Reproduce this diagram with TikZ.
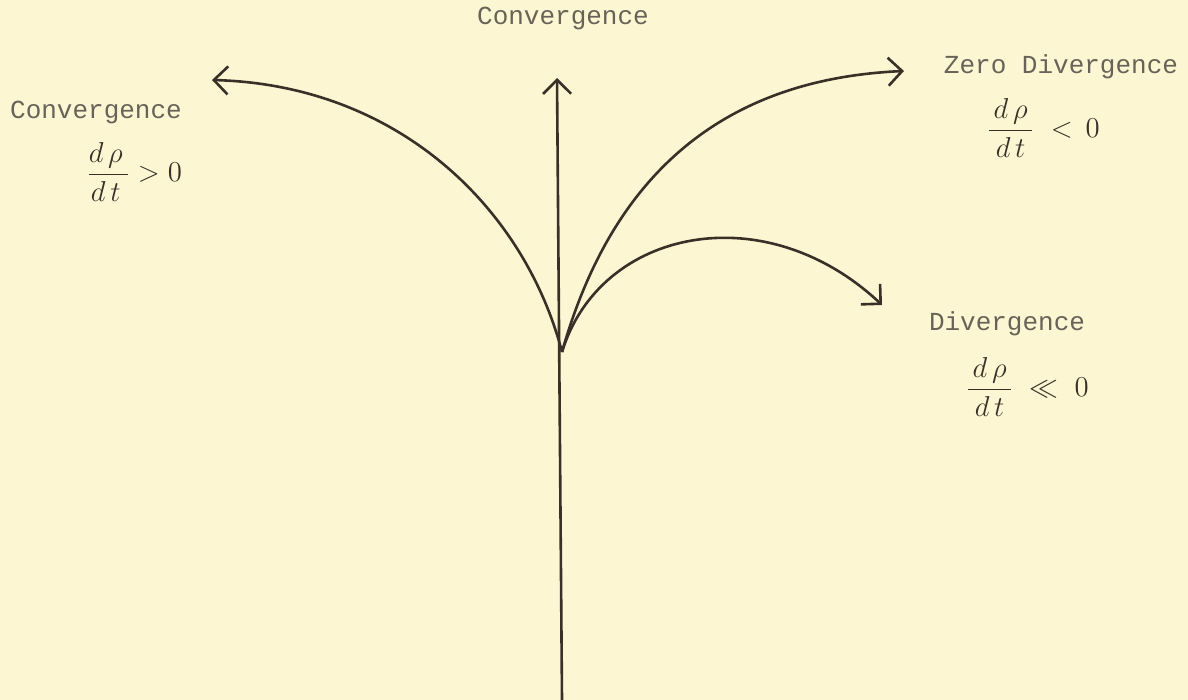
\documentclass[tikz,border=0pt]{standalone}
\usepackage{fontspec}
\setmonofont{Liberation Mono}
\usetikzlibrary{arrows.meta}
\definecolor{paper}{RGB}{253,246,211}
\definecolor{ink}{RGB}{58,48,40}
\definecolor{typed}{RGB}{105,98,88}
\begin{document}
\begin{tikzpicture}[
    x=0.5pt, y=-0.5pt,
    curve/.style={draw=ink, line width=1.3pt, -{Straight Barb[length=7pt,width=14pt,line width=1.3pt]}},
    typed/.style={text=typed, font=\ttfamily\fontsize{13}{15}\selectfont, inner sep=0pt},
    rate/.style={text=ink, font=\fontsize{15}{17}\selectfont, inner sep=0pt, anchor=west}
]
\fill[paper] (0,0) rectangle (1188,700);
\useasboundingbox (0,0) rectangle (1188,700);
% stem and branch points
\coordinate (bottom) at (562,700);
\coordinate (origin) at (562,352);
\coordinate (topTip) at (557,78);
\coordinate (leftTip) at (212,80);
\coordinate (zeroTip) at (904,71);
\coordinate (divTip) at (882,305);
\draw[curve] (bottom) -- (topTip);
\draw[curve] (origin) .. controls (525,210) and (400,85) .. (leftTip);
\draw[curve] (origin) .. controls (605,200) and (700,80) .. (zeroTip);
\draw[curve] (origin) .. controls (600,228) and (765,195) .. (divTip);
% labels
\node[typed] (topLabel) at (563,18) {Convergence};
\node[typed] (leftLabel) at (96,112) {Convergence};
\node[rate] (leftRate) at (86,172) {$\displaystyle\frac{d\,\rho\,}{d\,t\,} > 0$};
\node[typed] (zeroLabel) at (1061,67) {Zero Divergence};
\node[rate] (zeroRate) at (986,128) {$\displaystyle\frac{\,d\,\rho\,}{\,d\,t\,}\;<\,0$};
\node[typed] (divLabel) at (1007,324) {Divergence};
\node[rate] (divRate) at (965,387) {$\displaystyle\frac{\,d\,\rho\,}{\,d\,t\,}\;\ll\;0$};
\end{tikzpicture}
\end{document}
